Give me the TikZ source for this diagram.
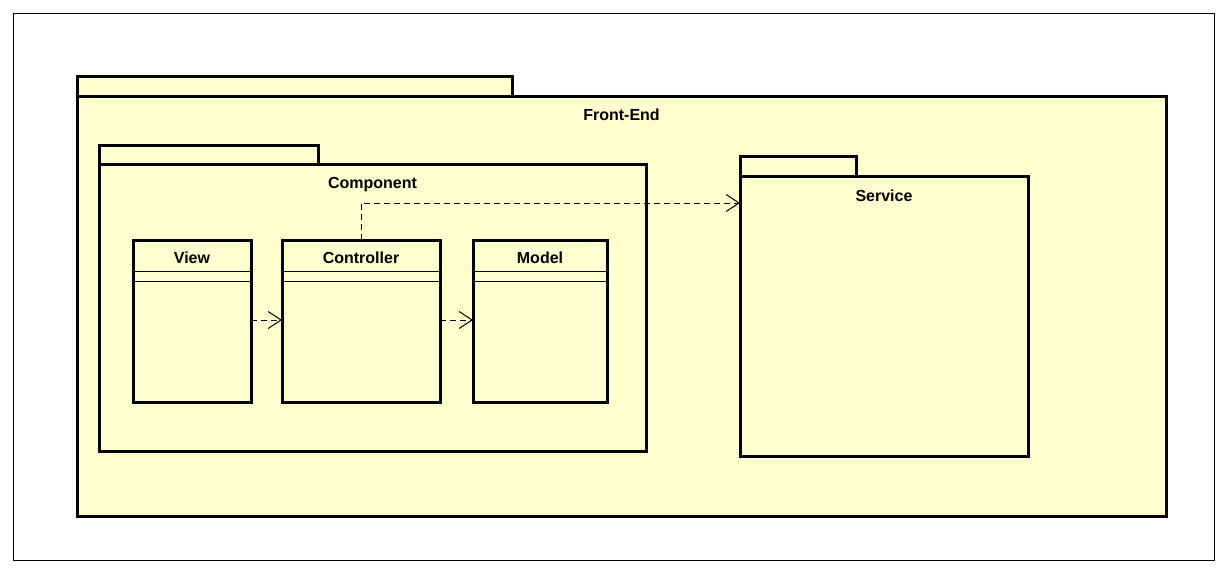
\documentclass[tikz,border=0pt]{standalone}
\usepackage{fontspec}
\setmainfont{Liberation Sans}
\usetikzlibrary{positioning,arrows.meta}
\definecolor{pkgfill}{RGB}{254,254,206}

\begin{document}
\begin{tikzpicture}[x=1pt,y=-1pt,
  pkg/.style={draw,fill=pkgfill,line width=3pt,anchor=north west,inner sep=0pt,outer sep=0pt},
  pkgtab/.style={pkg,anchor=south west,minimum height=20pt},
  cls/.style={pkg,minimum height=162pt},
  lbl/.style={font=\fontsize{16}{18}\selectfont\bfseries,inner sep=0pt,anchor=base},
  dep/.style={line width=1pt,dash pattern=on 6pt off 4pt,-{Straight Barb[length=13pt,width=17pt,line width=1pt]}}]
\useasboundingbox (0,0) rectangle (1228,573);
\draw[line width=1pt] (13,13) rectangle (1214,560);
% Front-End package
\node[pkg,minimum width=1089pt,minimum height=420pt] (frontend) at (77,96) {};
\node[pkgtab,minimum width=435pt] (frontend tab) at (frontend.north west) {};
\node[lbl] (frontend lbl) at ([yshift=-24pt]frontend.north) {Front-End};
% Component package
\node[pkg,minimum width=547pt,minimum height=287pt] (component) at (99,164) {};
\node[pkgtab,minimum width=219pt,minimum height=19pt] (component tab) at (component.north west) {};
\node[lbl] (component lbl) at ([yshift=-24pt]component.north) {Component};
% Service package
\node[pkg,minimum width=288pt,minimum height=280pt] (service) at (740,176) {};
\node[pkgtab,minimum width=116pt] (service tab) at (service.north west) {};
\node[lbl] (service lbl) at ([yshift=-25pt]service.north) {Service};
% classes
\node[cls,minimum width=118pt] (view) at (133,240) {};
\node[cls,minimum width=158pt] (controller) at (282,240) {};
\node[cls,minimum width=134pt] (model) at (473,240) {};
\node[lbl] (view lbl) at ([yshift=-23pt]view.north) {View};
\node[lbl] (controller lbl) at ([yshift=-23pt]controller.north) {Controller};
\node[lbl] (model lbl) at ([yshift=-23pt]model.north) {Model};
\foreach \c in {view,controller,model}
  \foreach \d in {31,41}
    \draw[line width=1pt] ([yshift=-\d pt]\c.north west) -- ([yshift=-\d pt]\c.north east);
% dependencies
\draw[dep] ([yshift=-80pt]view.north east) -- ([yshift=-80pt]controller.north west);
\draw[dep] ([yshift=-80pt]controller.north east) -- ([yshift=-80pt]model.north west);
\draw[dep] (controller.north) |- ([yshift=-27pt]service.north west);
\end{tikzpicture}
\end{document}
